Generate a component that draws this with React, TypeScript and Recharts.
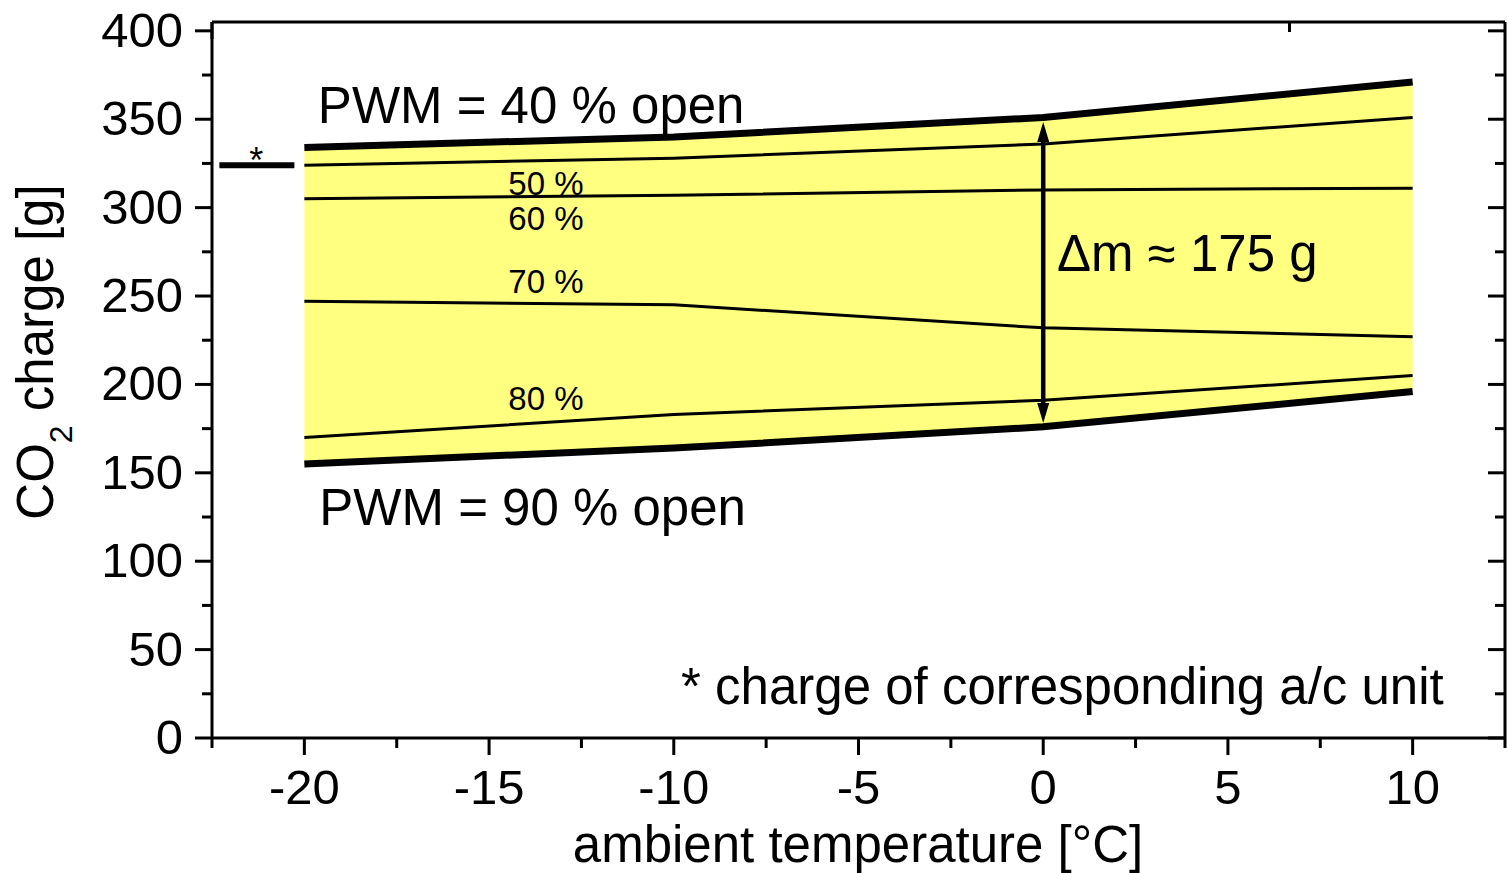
import React from 'react'
import {
  ComposedChart,
  Area,
  Line,
  XAxis,
  YAxis,
  ReferenceLine,
  ReferenceDot,
  Label,
} from 'recharts'

const FONT = '"Liberation Sans", Arial, sans-serif'

// ambient temperature [°C]
const temps = [-20, -10, 0, 10]
// CO2 charge [g] for each PWM opening
const pwm40 = [334, 340, 351, 371]
const pwm50 = [324, 328, 336, 351]
const pwm60 = [305, 307, 310, 311]
const pwm70 = [247, 245, 232, 227]
const pwm80 = [170, 183, 191, 205]
const pwm90 = [155, 164, 176, 196]

// charge of the corresponding a/c unit
const acCharge = 324
const acRange = [-22.3, -20.27]

const xTicks = [-22.5, -20, -17.5, -15, -12.5, -10, -7.5, -5, -2.5, 0, 2.5, 5, 7.5, 10, 12.5]
const yTicks = [0, 25, 50, 75, 100, 125, 150, 175, 200, 225, 250, 275, 300, 325, 350, 375, 400]

const percentLabels = [
  { text: '50 %', x: -13.46, y: 314 },
  { text: '60 %', x: -13.46, y: 294.2 },
  { text: '70 %', x: -13.46, y: 258.6 },
  { text: '80 %', x: -13.46, y: 192.4 },
]

const bigLabels = [
  { text: 'PWM = 40 % open', x: -13.86, y: 358 },
  { text: 'PWM = 90 % open', x: -13.82, y: 130.7 },
  { text: 'Δm ≈ 175 g', x: 3.9, y: 274.4 },
  { text: '* charge of corresponding a/c unit', x: 0.52, y: 29.4 },
]

const rows = temps.map((t, i) => ({
  t,
  p40: pwm40[i],
  p50: pwm50[i],
  p60: pwm60[i],
  p70: pwm70[i],
  p80: pwm80[i],
  p90: pwm90[i],
  band: [pwm90[i], pwm40[i]],
}))

const MAJOR = 17
const MINOR = 10
const isMajor = (v: number, step: number) => Math.abs(v / step - Math.round(v / step)) < 1e-6

const BottomTick = ({ x, y, payload }: any) => {
  const major = isMajor(payload.value, 5)
  return (
    <g>
      <line x1={x} x2={x} y1={y} y2={y + (major ? MAJOR : MINOR)} stroke="#000" strokeWidth={3} />
      {major && (
        <text x={x} y={y + 66} textAnchor="middle" fontSize={49} fontFamily={FONT} fill="#000">
          {payload.value}
        </text>
      )}
    </g>
  )
}

const TopTick = ({ x, y, payload }: any) => {
  const major = isMajor(payload.value, 5)
  return <line x1={x} x2={x} y1={y} y2={y + (major ? MAJOR : MINOR)} stroke="#000" strokeWidth={3} />
}

const LeftTick = ({ x, y, payload }: any) => {
  const major = isMajor(payload.value, 50)
  return (
    <g>
      <line x1={x - (major ? MAJOR : MINOR)} x2={x} y1={y} y2={y} stroke="#000" strokeWidth={3} />
      {major && (
        <text x={x - 29} y={y + 16} textAnchor="end" fontSize={49} fontFamily={FONT} fill="#000">
          {payload.value}
        </text>
      )}
    </g>
  )
}

const RightTick = ({ x, y, payload }: any) => {
  const major = isMajor(payload.value, 50)
  return <line x1={x - (major ? MAJOR : MINOR)} x2={x} y1={y} y2={y} stroke="#000" strokeWidth={3} />
}

const DoubleArrow = (p: any) => {
  const { x1, y1, y2 } = p
  const top = Math.min(y1, y2)
  const bot = Math.max(y1, y2)
  const head = 20
  const hw = 6
  return (
    <g>
      <line x1={x1} x2={x1} y1={top + head - 2} y2={bot - head + 2} stroke="#000" strokeWidth={4.5} />
      <polygon points={`${x1},${top} ${x1 - hw},${top + head} ${x1 + hw},${top + head}`} fill="#000" />
      <polygon points={`${x1},${bot} ${x1 - hw},${bot - head} ${x1 + hw},${bot - head}`} fill="#000" />
    </g>
  )
}

const YTitle = ({ viewBox }: any) => {
  const cx = 53
  const cy = 352
  return (
    <text
      x={cx}
      y={cy}
      transform={`rotate(-90, ${cx}, ${cy})`}
      textAnchor="middle"
      fontSize={51}
      fontFamily={FONT}
      fill="#000"
    >
      <tspan>CO</tspan>
      <tspan fontSize={32} dy={19}>2</tspan>
      <tspan dy={-19}> charge [g]</tspan>
    </text>
  )
}

const XTitle = () => (
  <text x={858} y={862} textAnchor="middle" fontSize={51} fontFamily={FONT} fill="#000">
    ambient temperature [°C]
  </text>
)

export default function App() {
  return (
    <div style={{ position: 'absolute', left: 0, top: 0, fontFamily: FONT, background: '#fff' }}>
      <ComposedChart width={1507} height={873} data={rows} margin={{ top: 0, right: 0, bottom: 0, left: 0 }}>
        <XAxis
          xAxisId="b"
          dataKey="t"
          type="number"
          domain={[-22.5, 12.5]}
          ticks={xTicks}
          interval={0}
          allowDataOverflow
          height={135}
          tickSize={0}
          tickMargin={0}
          tickLine={false}
          axisLine={{ stroke: '#000', strokeWidth: 3 }}
          tick={<BottomTick />}
        >
          <Label content={<XTitle />} />
        </XAxis>
        <XAxis
          xAxisId="t"
          orientation="top"
          type="number"
          domain={[-22.5, 12.5]}
          ticks={xTicks}
          interval={0}
          allowDataOverflow
          height={22}
          tickSize={0}
          tickMargin={0}
          tickLine={false}
          axisLine={{ stroke: '#000', strokeWidth: 3 }}
          tick={<TopTick />}
        />
        <YAxis
          yAxisId="l"
          type="number"
          domain={[0, 405]}
          ticks={yTicks}
          interval={0}
          allowDataOverflow
          width={212}
          tickSize={0}
          tickMargin={0}
          tickLine={false}
          axisLine={{ stroke: '#000', strokeWidth: 3 }}
          tick={<LeftTick />}
        >
          <Label content={<YTitle />} />
        </YAxis>
        <YAxis
          yAxisId="r"
          orientation="right"
          type="number"
          domain={[0, 405]}
          ticks={yTicks}
          interval={0}
          allowDataOverflow
          width={2}
          tickSize={0}
          tickMargin={0}
          tickLine={false}
          axisLine={{ stroke: '#000', strokeWidth: 3 }}
          tick={<RightTick />}
        />

        <Area
          xAxisId="b"
          yAxisId="l"
          dataKey="band"
          type="linear"
          fill="#ffff80"
          fillOpacity={1}
          stroke="none"
          isAnimationActive={false}
        />
        {(['p50', 'p60', 'p70', 'p80'] as const).map((k) => (
          <Line
            key={k}
            xAxisId="b"
            yAxisId="l"
            dataKey={k}
            type="linear"
            stroke="#000"
            strokeWidth={3}
            dot={false}
            activeDot={false}
            isAnimationActive={false}
          />
        ))}
        {(['p40', 'p90'] as const).map((k) => (
          <Line
            key={k}
            xAxisId="b"
            yAxisId="l"
            dataKey={k}
            type="linear"
            stroke="#000"
            strokeWidth={7}
            dot={false}
            activeDot={false}
            isAnimationActive={false}
          />
        ))}

        <ReferenceLine
          xAxisId="b"
          yAxisId="l"
          segment={[
            { x: acRange[0], y: acCharge },
            { x: acRange[1], y: acCharge },
          ]}
          stroke="#000"
          strokeWidth={6}
          ifOverflow="visible"
        />
        <ReferenceLine
          xAxisId="b"
          yAxisId="l"
          segment={[
            { x: 0, y: 348.5 },
            { x: 0, y: 178.2 },
          ]}
          shape={<DoubleArrow />}
          ifOverflow="visible"
        />

        <ReferenceDot
          xAxisId="b"
          yAxisId="l"
          x={-21.3}
          y={327}
          r={0}
          fill="none"
          stroke="none"
          label={{ value: '*', position: 'center', fontSize: 36, fontFamily: FONT, fill: '#000' }}
        />
        {percentLabels.map((l) => (
          <ReferenceDot
            key={l.text}
            xAxisId="b"
            yAxisId="l"
            x={l.x}
            y={l.y}
            r={0}
            fill="none"
            stroke="none"
            label={{ value: l.text, position: 'center', fontSize: 33, fontFamily: FONT, fill: '#000' }}
          />
        ))}
        {bigLabels.map((l) => (
          <ReferenceDot
            key={l.text}
            xAxisId="b"
            yAxisId="l"
            x={l.x}
            y={l.y}
            r={0}
            fill="none"
            stroke="none"
            label={{ value: l.text, position: 'center', fontSize: 51, fontFamily: FONT, fill: '#000' }}
          />
        ))}
      </ComposedChart>
    </div>
  )
}
